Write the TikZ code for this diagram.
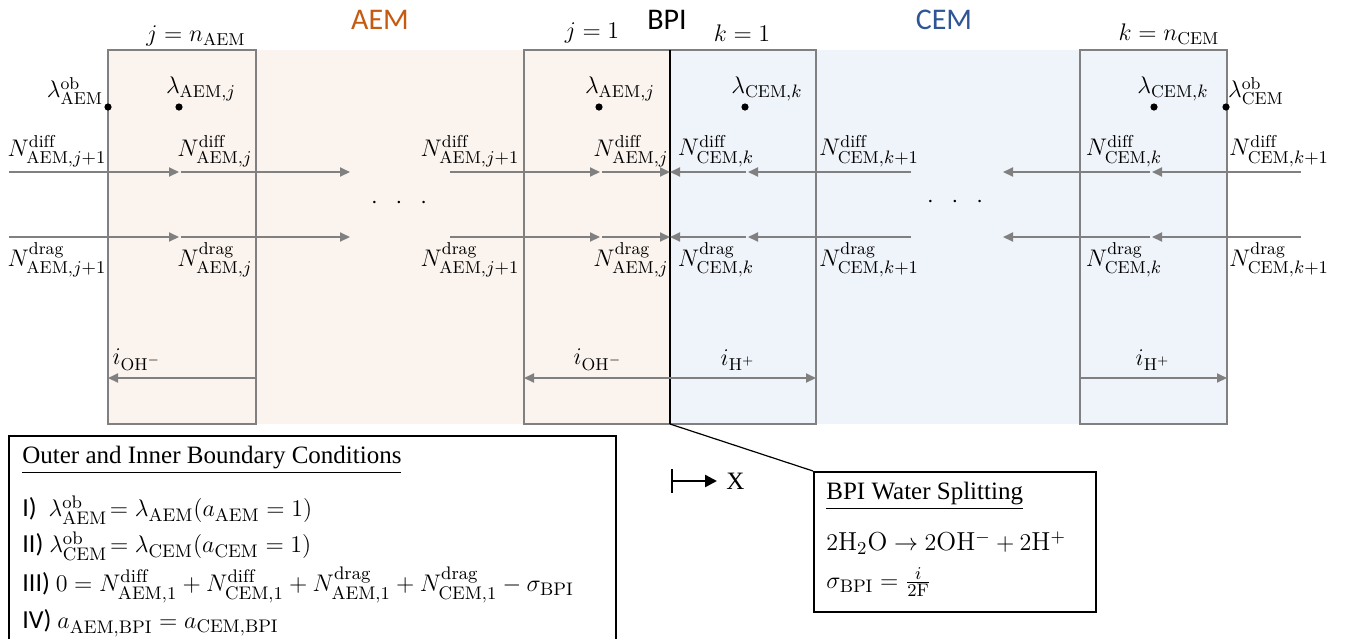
\documentclass[tikz,border=0pt]{standalone}
\usepackage{fontspec}
\setsansfont{Carlito}
\newfontfamily\serifbox{Liberation Serif}
\usetikzlibrary{arrows.meta}
\definecolor{aemfill}{RGB}{251,243,237}
\definecolor{cemfill}{RGB}{239,243,250}
\definecolor{aemtext}{RGB}{197,90,17}
\definecolor{cemtext}{RGB}{47,85,151}
\definecolor{cellgray}{RGB}{128,128,128}

\begin{document}
\begin{tikzpicture}[x=0.5pt, y=-0.5pt,
  cell/.style={draw=cellgray, line width=1pt},
  flux/.style={-{Triangle[length=5pt, width=4.5pt]}, color=cellgray, line width=1pt},
  mlabel/.style={inner sep=0pt, font=\fontsize{12.3}{14}\selectfont},
  region/.style={inner sep=0pt, font=\sffamily\fontsize{15}{18}\selectfont},
  txt/.style={inner sep=0pt, font=\serifbox\fontsize{12.5}{15}\selectfont},
  bcline/.style={inner sep=0pt, anchor=west, font=\fontsize{13}{15}\selectfont},
  state/.style={circle, fill=black, inner sep=0pt, minimum size=3.6pt},
  infobox/.style={draw, line width=0.8pt, inner sep=0pt}
]
\useasboundingbox (0,0) rectangle (1346,639);

\fill[aemfill] (108,50) rectangle (670,424);
\fill[cemfill] (670,50) rectangle (1227,424);
\draw[cell] (108,50) rectangle (256,424);
\draw[cell] (524,50) rectangle (670,424);
\draw[cell] (670,50) rectangle (816,424);
\draw[cell] (1080,50) rectangle (1227,424);
\draw[line width=1.3pt] (670,50) -- (670,424);

\node[region, text=aemtext] (aem) at (380,20) {AEM};
\node[region] (bpi) at (667,20) {BPI};
\node[region, text=cemtext] (cem) at (944,20) {CEM};
\node[mlabel] (jn) at (196,36) {$j = n_{\mathrm{AEM}}$};
\node[mlabel] (j1) at (592,33) {$j = 1$};
\node[mlabel] (k1) at (742,33) {$k = 1$};
\node[mlabel] (kn) at (1169,34) {$k = n_{\mathrm{CEM}}$};

\node[state] (obA) at (108,107) {};
\node[state] (lamA1) at (179,107) {};
\node[state] (lamA2) at (599,107) {};
\node[state] (lamC2) at (745,107) {};
\node[state] (lamC1) at (1154,107) {};
\node[state] (obC) at (1226,107) {};
\node[mlabel] (obAl) at (75,91) {$\lambda^{\mathrm{ob}}_{\mathrm{AEM}}$};
\node[mlabel] (lamA1l) at (201,89) {$\lambda_{\mathrm{AEM},j}$};
\node[mlabel] (lamA2l) at (620,89) {$\lambda_{\mathrm{AEM},j}$};
\node[mlabel] (lamC2l) at (767,89) {$\lambda_{\mathrm{CEM},k}$};
\node[mlabel] (lamC1l) at (1173,89) {$\lambda_{\mathrm{CEM},k}$};
\node[mlabel] (obCl) at (1256,91) {$\lambda^{\mathrm{ob}}_{\mathrm{CEM}}$};

\foreach \r/\y in {diff/172, drag/237} {
  \coordinate (aL-\r) at (9,\y);
  \coordinate (aA-\r) at (179,\y);
  \coordinate (aB-\r) at (350,\y);
  \coordinate (aC-\r) at (450,\y);
  \coordinate (aD-\r) at (600,\y);
  \coordinate (bpi-\r) at (670,\y);
  \coordinate (cD-\r) at (748,\y);
  \coordinate (cC-\r) at (911,\y);
  \coordinate (cB-\r) at (1003,\y);
  \coordinate (cA-\r) at (1152,\y);
  \coordinate (cR-\r) at (1301,\y);
  \draw[flux] (aL-\r) -- (aA-\r);
  \draw[flux, shorten <=1pt] (aA-\r) -- (aB-\r);
  \draw[flux] (aC-\r) -- (aD-\r);
  \draw[flux, shorten <=1pt] (aD-\r) -- (bpi-\r);
  \draw[flux] (cC-\r) -- (cD-\r);
  \draw[flux, shorten <=1pt] (cD-\r) -- (bpi-\r);
  \draw[flux] (cR-\r) -- (cA-\r);
  \draw[flux, shorten <=1pt] (cA-\r) -- (cB-\r);
}

\foreach \x/\m/\s [count=\n] in {57/AEM/j+1, 215/AEM/j, 470/AEM/j+1, 631/AEM/j,
    716/CEM/k, 869/CEM/k+1, 1124/CEM/k, 1279/CEM/k+1} {
  \node[mlabel, anchor=south] (nd\n) at (\x,167) {$N^{\mathrm{diff}}_{\mathrm{\m},\s}$};
  \node[mlabel, anchor=north] (ng\n) at (\x,242) {$N^{\mathrm{drag}}_{\mathrm{\m},\s}$};
}

\node[mlabel] (gapA) at (399,203) {$\cdot$\hspace{9pt}$\cdot$\hspace{9pt}$\cdot$};
\node[mlabel] (gapC) at (955,202) {$\cdot$\hspace{9pt}$\cdot$\hspace{9pt}$\cdot$};

\coordinate (cur-a0) at (256,378);
\coordinate (cur-a1) at (108,378);
\coordinate (cur-bpi) at (670,378);
\coordinate (cur-a2) at (524,378);
\coordinate (cur-c2) at (816,378);
\coordinate (cur-c0) at (1080,378);
\coordinate (cur-c1) at (1227,378);
\draw[flux] (cur-a0) -- (cur-a1);
\draw[flux] (cur-bpi) -- (cur-a2);
\draw[flux] (cur-bpi) -- (cur-c2);
\draw[flux] (cur-c0) -- (cur-c1);
\node[mlabel] (ioh1) at (137,360) {$i_{\mathrm{OH}^-}$};
\node[mlabel] (ioh2) at (598,360) {$i_{\mathrm{OH}^-}$};
\node[mlabel] (ih2) at (738,360) {$i_{\mathrm{H}^+}$};
\node[mlabel] (ih1) at (1153,360) {$i_{\mathrm{H}^+}$};

\draw[line width=0.8pt] (9,639) |- (616,436) -- (616,639);
\node[txt, anchor=west] (bctitle) at (22,460) {\underline{Outer and Inner Boundary Conditions}};
\node[bcline] (bc1) at (22,510) {\sffamily I)\ \ $\lambda^{\mathrm{ob}}_{\mathrm{AEM}}\!= \lambda_{\mathrm{AEM}}(a_{\mathrm{AEM}} = 1)$};
\node[bcline] (bc2) at (22,546) {\sffamily II) $\lambda^{\mathrm{ob}}_{\mathrm{CEM}}\!= \lambda_{\mathrm{CEM}}(a_{\mathrm{CEM}} = 1)$};
\node[bcline] (bc3) at (22,585) {\sffamily III) $0 = N^{\mathrm{diff}}_{\mathrm{AEM},1} + N^{\mathrm{diff}}_{\mathrm{CEM},1} + N^{\mathrm{drag}}_{\mathrm{AEM},1} + N^{\mathrm{drag}}_{\mathrm{CEM},1} - \sigma_{\mathrm{BPI}}$};
\node[bcline] (bc4) at (22,623) {\sffamily IV) $a_{\mathrm{AEM,BPI}} = a_{\mathrm{CEM,BPI}}$};

\coordinate (x0) at (671,481);
\coordinate (x1) at (717,481);
\draw[{Bar[width=12pt]}-{Triangle[length=6pt, width=6pt]}, line width=1.2pt] (x0) -- (x1);
\node[txt, anchor=west] (xlab) at (726,481) {X};

\coordinate (bpibot) at (670,424);
\node[infobox, minimum width=141pt, minimum height=70pt, anchor=north west] (wsbox) at (813,471) {};
\draw[line width=0.6pt] (bpibot) -- (wsbox.north west);
\node[txt, anchor=west] (wstitle) at (826,496) {\underline{BPI Water Splitting}};
\node[bcline] (ws1) at (826,543) {$2\mathrm{H_2O} \rightarrow 2\mathrm{OH^-} + 2\mathrm{H^+}$};
\node[bcline] (ws2) at (826,582) {$\sigma_{\mathrm{BPI}} = \frac{i}{2\mathrm{F}}$};
\end{tikzpicture}
\end{document}
